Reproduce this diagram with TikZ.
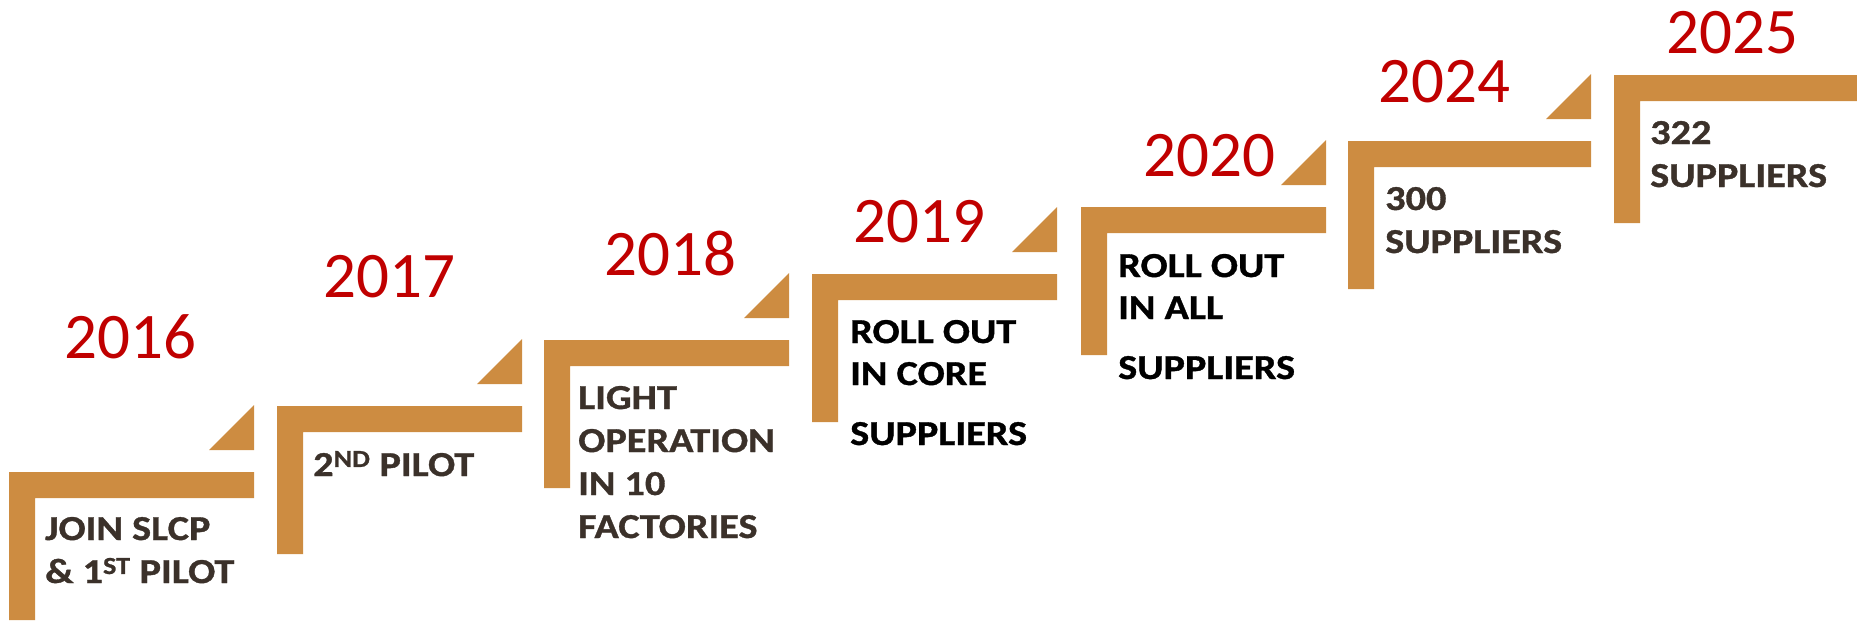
\documentclass[tikz,border=0pt]{standalone}
\usepackage{fontspec}
\setmainfont{Carlito}
\newfontfamily\notefont[FakeStretch=1.15, FakeBold=1]{Carlito Bold}
\definecolor{stairbrown}{RGB}{205,140,65}
\definecolor{yearred}{RGB}{192,0,0}
\definecolor{textbrown}{RGB}{59,49,42}
\tikzset{
  stair/.style={fill=stairbrown},
  year/.style={anchor=base west, inner sep=0pt, text=yearred,
    font=\fontsize{65}{70}\selectfont},
  note/.style={anchor=base west, inner sep=0pt, align=left, text=textbrown,
    font=\notefont\fontsize{35}{43}\selectfont}
}
\begin{document}
\begin{tikzpicture}[x=1pt, y=-1pt]
  \useasboundingbox (0,0) rectangle (1857,621);
  % steps
  \fill[stair] (9,472) -- ++(245,0) -- ++(0,26) -- ++(-219,0) -- ++(0,122) -- ++(-26,0) -- cycle;
  \fill[stair] (254,450) -- ++(0,-45) -- ++(-45,45) -- cycle;
  \fill[stair] (277,406) -- ++(245,0) -- ++(0,26) -- ++(-219,0) -- ++(0,122) -- ++(-26,0) -- cycle;
  \fill[stair] (522,384) -- ++(0,-45) -- ++(-45,45) -- cycle;
  \fill[stair] (544,340) -- ++(245,0) -- ++(0,26) -- ++(-219,0) -- ++(0,122) -- ++(-26,0) -- cycle;
  \fill[stair] (789,318) -- ++(0,-45) -- ++(-45,45) -- cycle;
  \fill[stair] (812,274) -- ++(245,0) -- ++(0,26) -- ++(-219,0) -- ++(0,122) -- ++(-26,0) -- cycle;
  \fill[stair] (1057,252) -- ++(0,-45) -- ++(-45,45) -- cycle;
  \fill[stair] (1081,207) -- ++(245,0) -- ++(0,26) -- ++(-219,0) -- ++(0,122) -- ++(-26,0) -- cycle;
  \fill[stair] (1326,185) -- ++(0,-45) -- ++(-45,45) -- cycle;
  \fill[stair] (1348,141) -- ++(243,0) -- ++(0,26) -- ++(-217,0) -- ++(0,122) -- ++(-26,0) -- cycle;
  \fill[stair] (1591,119) -- ++(0,-45) -- ++(-45,45) -- cycle;
  \fill[stair] (1614,75) -- ++(245,0) -- ++(0,26) -- ++(-219,0) -- ++(0,122) -- ++(-26,0) -- cycle;
  % years
  \node[year] (y2016) at (64,358) {2016};
  \node[year] (y2017) at (323,297) {2017};
  \node[year] (y2018) at (604,275) {2018};
  \node[year] (y2019) at (853,242) {2019};
  \node[year] (y2020) at (1143,176) {2020};
  \node[year] (y2024) at (1378,102) {2024};
  \node[year] (y2025) at (1666,53) {2025};
  % milestones (anchored at the last line)
  \node[note] (n2016) at (45,583) {JOIN SLCP\\ \& 1\textsuperscript{ST} PILOT};
  \node[note] (n2017) at (313,476) {2\textsuperscript{ND} PILOT};
  \node[note] (n2018) at (578,538) {LIGHT\\ OPERATION\\ IN 10\\ FACTORIES};
  \node[note, text=black] (n2019) at (850,445) {ROLL OUT\\[-1pt] IN CORE\\[17pt] SUPPLIERS};
  \node[note, text=black] (n2020) at (1118,379) {ROLL OUT\\[-1pt] IN ALL\\[17pt] SUPPLIERS};
  \node[note] (n2024) at (1385,253) {300\\ SUPPLIERS};
  \node[note] (n2025) at (1650,187) {322\\ SUPPLIERS};
\end{tikzpicture}
\end{document}
